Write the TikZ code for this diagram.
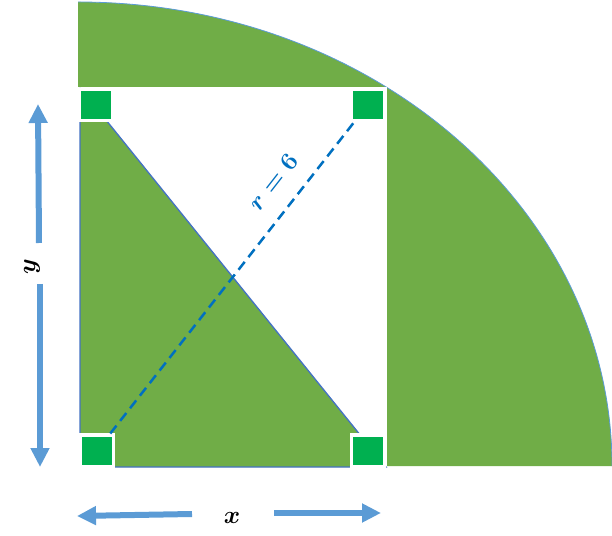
\documentclass[tikz,border=0pt]{standalone}
\usetikzlibrary{arrows.meta}
\definecolor{leaf}{HTML}{70AD47}
\definecolor{boxgreen}{HTML}{00B050}
\definecolor{edgeblue}{HTML}{4472C4}
\definecolor{arcblue}{HTML}{5B9BD5}
\definecolor{dashblue}{HTML}{0070C0}
\tikzset{
  cornerbox/.style={fill=boxgreen,draw=white,line width=3pt,minimum width=33pt,minimum height=31pt,inner sep=0pt},
  dimarrow/.style={draw=arcblue,line width=6pt,-{Triangle[width=18pt,length=19pt]}},
  radline/.style={draw=dashblue,line width=2.5pt,dash pattern=on 10pt off 6pt},
  mathlab/.style={font=\fontsize{31}{31}\selectfont\boldmath,inner sep=0pt}
}
\begin{document}
\begin{tikzpicture}[x=1pt,y=1pt]
\useasboundingbox (0,0) rectangle (612,535);
% quarter ellipse
\fill[leaf] (78,69) -- (78,533) arc[start angle=90,end angle=0,x radius=534,y radius=464] -- cycle;
\draw[arcblue,line width=0.8pt] (78,533) arc[start angle=90,end angle=0,x radius=534,y radius=464];
% white rectangle
\fill[white] (78,68) rectangle (387,448);
% triangle
\filldraw[fill=leaf,draw=edgeblue,line width=1.3pt] (80,447) -- (80,68) -- (386,68) -- (81,446);
% corner squares
\node[cornerbox] (tl) at (96,429.5) {};
\node[cornerbox] (tr) at (367.5,430) {};
\node[cornerbox] (bl) at (97,84.5) {};
\node[cornerbox] (br) at (367.5,84.5) {};
% radius
\draw[radline] (bl) -- (tr);
\node[mathlab,text=dashblue,rotate=52] (rlab) at (273,353) {$r=6$};
% y dimension
\coordinate (ya) at (39,292);
\coordinate (yt) at (38,431);
\coordinate (yb) at (40,251);
\coordinate (ybt) at (40,68);
\node[mathlab,rotate=90] (ylab) at (32,268) {$y$};
\draw[dimarrow] (ya) -- (yt);
\draw[dimarrow] (yb) -- (ybt);
% x dimension
\coordinate (xa) at (192,21);
\coordinate (xt) at (77,19);
\coordinate (xb) at (274,22);
\coordinate (xbt) at (381,22);
\node[mathlab] (xlab) at (232,17) {$x$};
\draw[dimarrow] (xa) -- (xt);
\draw[dimarrow] (xb) -- (xbt);
\end{tikzpicture}
\end{document}
